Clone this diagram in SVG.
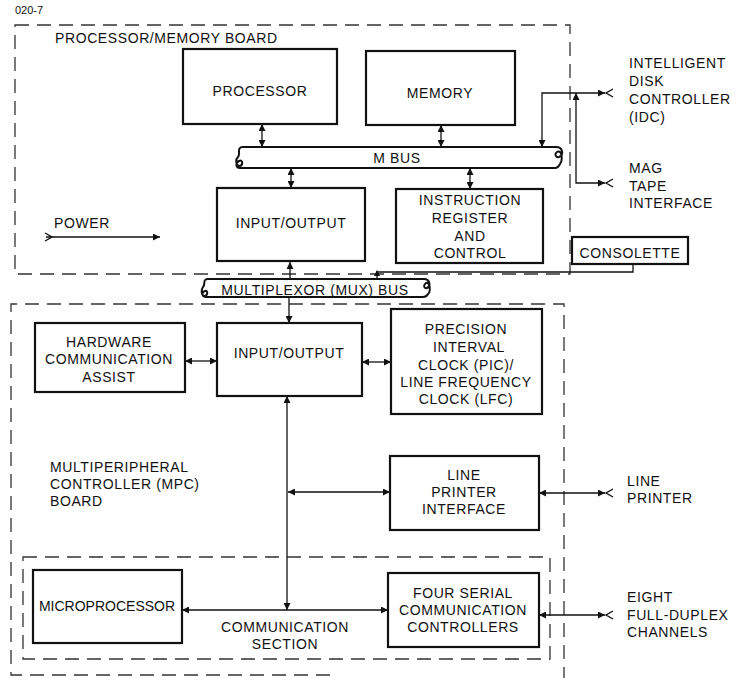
<svg xmlns="http://www.w3.org/2000/svg" width="736" height="678" viewBox="0 0 736 678">
  <style>
    text { font-family: "Liberation Sans", Arial, sans-serif; font-size: 14px; fill: #111; letter-spacing: 0.6px; }
    .c { text-anchor: middle; }
    .small { font-size: 11px; letter-spacing: 0; }
    .box { fill: #fff; stroke: #111; stroke-width: 2.2; }
    .board { fill: none; stroke: #333; stroke-width: 1.3; stroke-dasharray: 14 8; }
    .wire { fill: none; stroke: #111; stroke-width: 1.3; }
    .bus { fill: #fff; stroke: #111; stroke-width: 2; stroke-linejoin: round; }
    .chev { fill: none; stroke: #111; stroke-width: 1.4; }
  </style>
  <defs>
    <marker id="ah" viewBox="0 0 10 10" refX="10" refY="5" markerWidth="7" markerHeight="7" markerUnits="userSpaceOnUse" orient="auto-start-reverse">
      <path d="M0,0 L10,5 L0,10 Z" fill="#111"/>
    </marker>
  </defs>
  <rect width="736" height="678" fill="#fff"/>

  <!-- board outlines -->
  <g id="boards">
    <text class="small" x="15" y="14">020-7</text>
    <rect class="board" x="15" y="25" width="555" height="249"/>
    <path class="board" d="M330,675 H11 V304 H564 V678"/>
    <rect class="board" x="23" y="557" width="527" height="102"/>
  </g>

  <!-- buses -->
  <g id="m-bus">
    <path class="bus" d="M243,147 H556 C563,147 564,155 559,157 C556,158 554,154 557,152 C562,149 563,160 560,164 C559,166 558,168 555,168 H240 C236,168 235,163 239,161 C243,159 243,165 240,166 C236,166 235,160 238,157 C241,154 236,147 243,147 Z"/>
    <text class="c" x="397" y="163">M BUS</text>
  </g>
  <g id="mux-bus">
    <path class="bus" d="M208,279 H424 C430,279 431,286 427,288 C424,289 423,285 426,283 C430,281 431,292 428,294 C427,296 426,297 423,297 H206 C202,297 201,292 205,291 C208,290 208,295 205,296 C201,296 201,290 203,287 C206,284 202,279 208,279 Z"/>
    <text class="c" x="315" y="295">MULTIPLEXOR (MUX) BUS</text>
  </g>

  <!-- processor / memory board -->
  <text x="55" y="43">PROCESSOR/MEMORY BOARD</text>
  <g id="processor">
    <rect class="box" x="183" y="49" width="154" height="75"/>
    <text class="c" x="260" y="96">PROCESSOR</text>
  </g>
  <g id="memory">
    <rect class="box" x="366" y="51" width="149" height="74"/>
    <text class="c" x="440" y="98">MEMORY</text>
  </g>
  <g id="io-upper">
    <rect class="box" x="217" y="188" width="148" height="73"/>
    <text class="c" x="291" y="228">INPUT/OUTPUT</text>
  </g>
  <g id="instruction-register">
    <rect class="box" x="396" y="189" width="147" height="74"/>
    <text class="c" x="470" y="205">INSTRUCTION</text>
    <text class="c" x="470" y="223">REGISTER</text>
    <text class="c" x="470" y="241">AND</text>
    <text class="c" x="470" y="258">CONTROL</text>
  </g>
  <g id="power">
    <text x="54" y="228">POWER</text>
  </g>
  <g id="consolette">
    <rect class="box" x="572" y="237" width="116" height="27"/>
    <text class="c" x="630" y="258">CONSOLETTE</text>
  </g>
  <g id="idc">
    <text x="629" y="68">INTELLIGENT</text>
    <text x="629" y="86">DISK</text>
    <text x="629" y="104">CONTROLLER</text>
    <text x="629" y="122">(IDC)</text>
  </g>
  <g id="mag-tape">
    <text x="629" y="173">MAG</text>
    <text x="629" y="191">TAPE</text>
    <text x="629" y="208">INTERFACE</text>
  </g>

  <!-- multiperipheral controller board -->
  <g id="mpc-label">
    <text x="50" y="472">MULTIPERIPHERAL</text>
    <text x="50" y="489">CONTROLLER (MPC)</text>
    <text x="50" y="506">BOARD</text>
  </g>
  <g id="hca">
    <rect class="box" x="35" y="323" width="150" height="69"/>
    <text class="c" x="109" y="347">HARDWARE</text>
    <text class="c" x="109" y="364">COMMUNICATION</text>
    <text class="c" x="109" y="382">ASSIST</text>
  </g>
  <g id="io-lower">
    <rect class="box" x="217" y="323" width="145" height="73"/>
    <text class="c" x="289" y="358">INPUT/OUTPUT</text>
  </g>
  <g id="pic-lfc">
    <rect class="box" x="391" y="309" width="151" height="105"/>
    <text class="c" x="466" y="334">PRECISION</text>
    <text class="c" x="469" y="352">INTERVAL</text>
    <text class="c" x="466" y="370">CLOCK (PIC)/</text>
    <text class="c" x="466" y="387">LINE FREQUENCY</text>
    <text class="c" x="466" y="404">CLOCK (LFC)</text>
  </g>
  <g id="line-printer-interface">
    <rect class="box" x="390" y="456" width="149" height="74"/>
    <text class="c" x="464" y="480">LINE</text>
    <text class="c" x="464" y="497">PRINTER</text>
    <text class="c" x="464" y="514">INTERFACE</text>
  </g>
  <g id="line-printer">
    <text x="627" y="486">LINE</text>
    <text x="627" y="503">PRINTER</text>
  </g>
  <g id="microprocessor">
    <rect class="box" x="33" y="570" width="149" height="73"/>
    <text class="c" x="107" y="611" style="letter-spacing:0">MICROPROCESSOR</text>
  </g>
  <g id="communication-section">
    <text class="c" x="285" y="632">COMMUNICATION</text>
    <text class="c" x="285" y="649">SECTION</text>
  </g>
  <g id="serial-controllers">
    <rect class="box" x="388" y="573" width="151" height="74"/>
    <text class="c" x="463" y="598">FOUR SERIAL</text>
    <text class="c" x="463" y="615">COMMUNICATION</text>
    <text class="c" x="463" y="632">CONTROLLERS</text>
  </g>
  <g id="channels">
    <text x="627" y="602">EIGHT</text>
    <text x="627" y="620">FULL-DUPLEX</text>
    <text x="627" y="637">CHANNELS</text>
  </g>

  <!-- connectors -->
  <g id="connectors">
    <path class="wire" d="M262,124 V147" marker-start="url(#ah)" marker-end="url(#ah)"/>
    <path class="wire" d="M441,125 V147" marker-start="url(#ah)" marker-end="url(#ah)"/>
    <path class="wire" d="M291,168 V188" marker-start="url(#ah)" marker-end="url(#ah)"/>
    <path class="wire" d="M470,168 V189" marker-start="url(#ah)" marker-end="url(#ah)"/>
    <path class="wire" d="M542,147 V93 H605" marker-start="url(#ah)" marker-end="url(#ah)"/>
    <path class="wire" d="M576,93 V183 H605" marker-start="url(#ah)" marker-end="url(#ah)"/>
    <polyline class="chev" points="613,89 606,93 613,97"/>
    <polyline class="chev" points="613,179 606,183 613,187"/>
    <path class="wire" d="M46,237 H160" marker-end="url(#ah)"/>
    <polyline class="chev" points="45,233 52,237 45,241"/>
    <path class="wire" d="M290,279 V262" marker-end="url(#ah)"/>
    <path class="wire" d="M377,279 V272 H633 V264"/>
    <path d="M377,270 L380,276 L374,276 Z" fill="#111"/>
    <path class="wire" d="M289,297 V323" marker-end="url(#ah)"/>
    <path class="wire" d="M185,361 H217" marker-start="url(#ah)" marker-end="url(#ah)"/>
    <path class="wire" d="M362,362 H391" marker-start="url(#ah)" marker-end="url(#ah)"/>
    <path class="wire" d="M287,396 V610" marker-start="url(#ah)" marker-end="url(#ah)"/>
    <path class="wire" d="M288,492 H390" marker-start="url(#ah)" marker-end="url(#ah)"/>
    <path class="wire" d="M182,610 H388" marker-start="url(#ah)" marker-end="url(#ah)"/>
    <path class="wire" d="M539,493 H605" marker-start="url(#ah)" marker-end="url(#ah)"/>
    <polyline class="chev" points="613,489 606,493 613,497"/>
    <path class="wire" d="M539,615 H605" marker-start="url(#ah)" marker-end="url(#ah)"/>
    <polyline class="chev" points="613,611 606,615 613,619"/>
  </g>
</svg>
